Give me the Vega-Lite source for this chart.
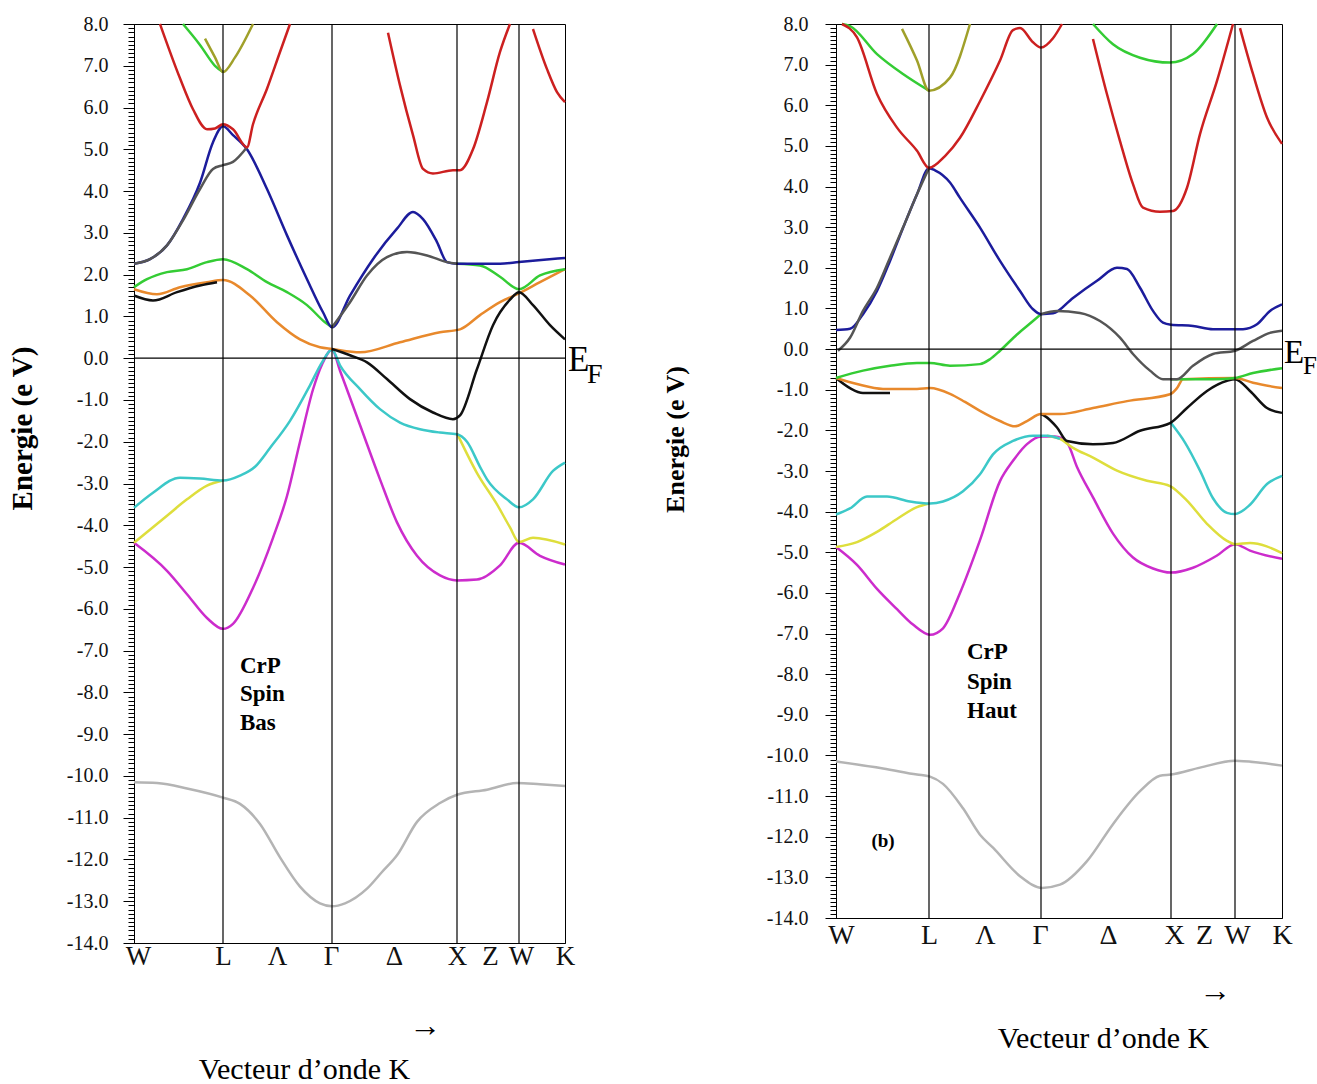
{
  "$schema": "https://vega.github.io/schema/vega-lite/v6.json",
  "background": "white",
  "padding": {"left": 7, "top": 13, "right": 0, "bottom": 0},
  "spacing": 57,
  "config": {"view": {"stroke": "black", "strokeWidth": 1}, "font": "Liberation Serif", "axis": {"grid": false}},
  "datasets": {
    "bandsL": [
      {"s":"Lgray","b":"gray","k":0,"e":-10.15},{"s":"Lgray","b":"gray","k":23,"e":-10.17},{"s":"Lgray","b":"gray","k":53,"e":-10.3},{"s":"Lgray","b":"gray","k":89,"e":-10.52},{"s":"Lgray","b":"gray","k":106,"e":-10.67},{"s":"Lgray","b":"gray","k":126,"e":-11.15},{"s":"Lgray","b":"gray","k":146,"e":-11.95},{"s":"Lgray","b":"gray","k":166,"e":-12.65},{"s":"Lgray","b":"gray","k":186,"e":-13.05},{"s":"Lgray","b":"gray","k":198,"e":-13.12},{"s":"Lgray","b":"gray","k":211,"e":-13.05},{"s":"Lgray","b":"gray","k":233,"e":-12.7},{"s":"Lgray","b":"gray","k":248,"e":-12.3},{"s":"Lgray","b":"gray","k":263,"e":-11.9},{"s":"Lgray","b":"gray","k":283,"e":-11.1},{"s":"Lgray","b":"gray","k":306,"e":-10.65},{"s":"Lgray","b":"gray","k":323,"e":-10.45},{"s":"Lgray","b":"gray","k":353,"e":-10.33},{"s":"Lgray","b":"gray","k":383,"e":-10.17},{"s":"Lgray","b":"gray","k":406,"e":-10.2},{"s":"Lgray","b":"gray","k":431,"e":-10.24},
      {"s":"Lmag","b":"magenta","k":0,"e":-4.42},{"s":"Lmag","b":"magenta","k":33,"e":-5.09},{"s":"Lmag","b":"magenta","k":53,"e":-5.65},{"s":"Lmag","b":"magenta","k":73,"e":-6.22},{"s":"Lmag","b":"magenta","k":89,"e":-6.48},{"s":"Lmag","b":"magenta","k":99,"e":-6.36},{"s":"Lmag","b":"magenta","k":119,"e":-5.5},{"s":"Lmag","b":"magenta","k":139,"e":-4.3},{"s":"Lmag","b":"magenta","k":153,"e":-3.3},{"s":"Lmag","b":"magenta","k":166,"e":-2.0},{"s":"Lmag","b":"magenta","k":179,"e":-0.75},{"s":"Lmag","b":"magenta","k":188,"e":-0.15},{"s":"Lmag","b":"magenta","k":198,"e":0.2},{"s":"Lmag","b":"magenta","k":206,"e":-0.3},{"s":"Lmag","b":"magenta","k":226,"e":-1.6},{"s":"Lmag","b":"magenta","k":246,"e":-2.9},{"s":"Lmag","b":"magenta","k":263,"e":-3.93},{"s":"Lmag","b":"magenta","k":283,"e":-4.73},{"s":"Lmag","b":"magenta","k":306,"e":-5.2},{"s":"Lmag","b":"magenta","k":323,"e":-5.32},{"s":"Lmag","b":"magenta","k":343,"e":-5.3},{"s":"Lmag","b":"magenta","k":366,"e":-4.96},{"s":"Lmag","b":"magenta","k":385,"e":-4.42},{"s":"Lmag","b":"magenta","k":406,"e":-4.73},{"s":"Lmag","b":"magenta","k":431,"e":-4.94},
      {"s":"Lyel1","b":"yellow","k":0,"e":-4.42},{"s":"Lyel1","b":"yellow","k":33,"e":-3.77},{"s":"Lyel1","b":"yellow","k":53,"e":-3.38},{"s":"Lyel1","b":"yellow","k":73,"e":-3.05},{"s":"Lyel1","b":"yellow","k":89,"e":-2.93},
      {"s":"Lyel2","b":"yellow","k":323,"e":-1.8},{"s":"Lyel2","b":"yellow","k":343,"e":-2.75},{"s":"Lyel2","b":"yellow","k":363,"e":-3.5},{"s":"Lyel2","b":"yellow","k":376,"e":-4.05},{"s":"Lyel2","b":"yellow","k":385,"e":-4.4},{"s":"Lyel2","b":"yellow","k":399,"e":-4.3},{"s":"Lyel2","b":"yellow","k":431,"e":-4.46},
      {"s":"Lcyan","b":"cyan","k":0,"e":-3.58},{"s":"Lcyan","b":"cyan","k":19,"e":-3.22},{"s":"Lcyan","b":"cyan","k":46,"e":-2.86},{"s":"Lcyan","b":"cyan","k":66,"e":-2.88},{"s":"Lcyan","b":"cyan","k":89,"e":-2.93},{"s":"Lcyan","b":"cyan","k":106,"e":-2.81},{"s":"Lcyan","b":"cyan","k":121,"e":-2.6},{"s":"Lcyan","b":"cyan","k":136,"e":-2.15},{"s":"Lcyan","b":"cyan","k":156,"e":-1.5},{"s":"Lcyan","b":"cyan","k":176,"e":-0.65},{"s":"Lcyan","b":"cyan","k":188,"e":-0.1},{"s":"Lcyan","b":"cyan","k":198,"e":0.2},{"s":"Lcyan","b":"cyan","k":206,"e":-0.17},{"s":"Lcyan","b":"cyan","k":226,"e":-0.74},{"s":"Lcyan","b":"cyan","k":246,"e":-1.22},{"s":"Lcyan","b":"cyan","k":266,"e":-1.54},{"s":"Lcyan","b":"cyan","k":286,"e":-1.7},{"s":"Lcyan","b":"cyan","k":306,"e":-1.78},{"s":"Lcyan","b":"cyan","k":323,"e":-1.82},{"s":"Lcyan","b":"cyan","k":333,"e":-2.0},{"s":"Lcyan","b":"cyan","k":346,"e":-2.6},{"s":"Lcyan","b":"cyan","k":353,"e":-2.9},{"s":"Lcyan","b":"cyan","k":373,"e":-3.38},{"s":"Lcyan","b":"cyan","k":385,"e":-3.57},{"s":"Lcyan","b":"cyan","k":399,"e":-3.38},{"s":"Lcyan","b":"cyan","k":419,"e":-2.7},{"s":"Lcyan","b":"cyan","k":431,"e":-2.5},
      {"s":"Lora","b":"orange","k":0,"e":1.65},{"s":"Lora","b":"orange","k":23,"e":1.53},{"s":"Lora","b":"orange","k":46,"e":1.7},{"s":"Lora","b":"orange","k":73,"e":1.82},{"s":"Lora","b":"orange","k":89,"e":1.87},{"s":"Lora","b":"orange","k":116,"e":1.5},{"s":"Lora","b":"orange","k":143,"e":0.86},{"s":"Lora","b":"orange","k":166,"e":0.45},{"s":"Lora","b":"orange","k":186,"e":0.26},{"s":"Lora","b":"orange","k":198,"e":0.22},{"s":"Lora","b":"orange","k":226,"e":0.14},{"s":"Lora","b":"orange","k":266,"e":0.38},{"s":"Lora","b":"orange","k":306,"e":0.62},{"s":"Lora","b":"orange","k":326,"e":0.69},{"s":"Lora","b":"orange","k":346,"e":1.03},{"s":"Lora","b":"orange","k":366,"e":1.34},{"s":"Lora","b":"orange","k":385,"e":1.55},{"s":"Lora","b":"orange","k":406,"e":1.82},{"s":"Lora","b":"orange","k":431,"e":2.13},
      {"s":"Lblk1","b":"black","k":0,"e":1.5},{"s":"Lblk1","b":"black","k":19,"e":1.38},{"s":"Lblk1","b":"black","k":43,"e":1.58},{"s":"Lblk1","b":"black","k":66,"e":1.74},{"s":"Lblk1","b":"black","k":83,"e":1.82},
      {"s":"Lblk2","b":"black","k":198,"e":0.22},{"s":"Lblk2","b":"black","k":216,"e":0.07},{"s":"Lblk2","b":"black","k":233,"e":-0.1},{"s":"Lblk2","b":"black","k":253,"e":-0.5},{"s":"Lblk2","b":"black","k":276,"e":-0.98},{"s":"Lblk2","b":"black","k":299,"e":-1.3},{"s":"Lblk2","b":"black","k":319,"e":-1.46},{"s":"Lblk2","b":"black","k":326,"e":-1.37},{"s":"Lblk2","b":"black","k":343,"e":-0.26},{"s":"Lblk2","b":"black","k":359,"e":0.79},{"s":"Lblk2","b":"black","k":376,"e":1.4},{"s":"Lblk2","b":"black","k":385,"e":1.58},{"s":"Lblk2","b":"black","k":399,"e":1.27},{"s":"Lblk2","b":"black","k":416,"e":0.79},{"s":"Lblk2","b":"black","k":431,"e":0.45},
      {"s":"Lgrn1","b":"green","k":0,"e":1.7},{"s":"Lgrn1","b":"green","k":13,"e":1.89},{"s":"Lgrn1","b":"green","k":33,"e":2.06},{"s":"Lgrn1","b":"green","k":53,"e":2.13},{"s":"Lgrn1","b":"green","k":73,"e":2.3},{"s":"Lgrn1","b":"green","k":89,"e":2.37},{"s":"Lgrn1","b":"green","k":113,"e":2.13},{"s":"Lgrn1","b":"green","k":133,"e":1.82},{"s":"Lgrn1","b":"green","k":153,"e":1.58},{"s":"Lgrn1","b":"green","k":173,"e":1.27},{"s":"Lgrn1","b":"green","k":191,"e":0.86},{"s":"Lgrn1","b":"green","k":198,"e":0.74},
      {"s":"Lgrn2","b":"green","k":323,"e":2.26},{"s":"Lgrn2","b":"green","k":346,"e":2.22},{"s":"Lgrn2","b":"green","k":366,"e":1.95},{"s":"Lgrn2","b":"green","k":385,"e":1.65},{"s":"Lgrn2","b":"green","k":406,"e":1.98},{"s":"Lgrn2","b":"green","k":431,"e":2.13},
      {"s":"Lgrn3","b":"green","k":49,"e":8.0},{"s":"Lgrn3","b":"green","k":66,"e":7.5},{"s":"Lgrn3","b":"green","k":81,"e":7.0},{"s":"Lgrn3","b":"green","k":89,"e":6.85},
      {"s":"Lolive","b":"olive","k":71,"e":7.65},{"s":"Lolive","b":"olive","k":81,"e":7.2},{"s":"Lolive","b":"olive","k":89,"e":6.85},{"s":"Lolive","b":"olive","k":101,"e":7.2},{"s":"Lolive","b":"olive","k":119,"e":8.0},
      {"s":"Lblue","b":"blue","k":0,"e":2.26},{"s":"Lblue","b":"blue","k":16,"e":2.37},{"s":"Lblue","b":"blue","k":33,"e":2.7},{"s":"Lblue","b":"blue","k":49,"e":3.33},{"s":"Lblue","b":"blue","k":66,"e":4.2},{"s":"Lblue","b":"blue","k":79,"e":5.17},{"s":"Lblue","b":"blue","k":89,"e":5.55},{"s":"Lblue","b":"blue","k":99,"e":5.34},{"s":"Lblue","b":"blue","k":113,"e":5.0},{"s":"Lblue","b":"blue","k":133,"e":4.05},{"s":"Lblue","b":"blue","k":153,"e":2.94},{"s":"Lblue","b":"blue","k":173,"e":1.89},{"s":"Lblue","b":"blue","k":189,"e":1.1},{"s":"Lblue","b":"blue","k":198,"e":0.74},{"s":"Lblue","b":"blue","k":216,"e":1.5},{"s":"Lblue","b":"blue","k":239,"e":2.37},{"s":"Lblue","b":"blue","k":263,"e":3.1},{"s":"Lblue","b":"blue","k":279,"e":3.5},{"s":"Lblue","b":"blue","k":289,"e":3.33},{"s":"Lblue","b":"blue","k":303,"e":2.78},{"s":"Lblue","b":"blue","k":313,"e":2.3},{"s":"Lblue","b":"blue","k":323,"e":2.26},{"s":"Lblue","b":"blue","k":366,"e":2.26},{"s":"Lblue","b":"blue","k":385,"e":2.3},{"s":"Lblue","b":"blue","k":431,"e":2.4},
      {"s":"Ldg1","b":"dgray","k":0,"e":2.26},{"s":"Ldg1","b":"dgray","k":16,"e":2.37},{"s":"Ldg1","b":"dgray","k":33,"e":2.7},{"s":"Ldg1","b":"dgray","k":49,"e":3.3},{"s":"Ldg1","b":"dgray","k":66,"e":4.05},{"s":"Ldg1","b":"dgray","k":79,"e":4.53},{"s":"Ldg1","b":"dgray","k":89,"e":4.62},{"s":"Ldg1","b":"dgray","k":99,"e":4.7},{"s":"Ldg1","b":"dgray","k":113,"e":5.05},
      {"s":"Ldg2","b":"dgray","k":198,"e":0.74},{"s":"Ldg2","b":"dgray","k":216,"e":1.34},{"s":"Ldg2","b":"dgray","k":233,"e":1.98},{"s":"Ldg2","b":"dgray","k":253,"e":2.42},{"s":"Ldg2","b":"dgray","k":273,"e":2.54},{"s":"Ldg2","b":"dgray","k":293,"e":2.46},{"s":"Ldg2","b":"dgray","k":313,"e":2.3},{"s":"Ldg2","b":"dgray","k":323,"e":2.26},
      {"s":"Lred1","b":"red","k":26,"e":8.0},{"s":"Lred1","b":"red","k":46,"e":6.7},{"s":"Lred1","b":"red","k":59,"e":5.96},{"s":"Lred1","b":"red","k":73,"e":5.48},{"s":"Lred1","b":"red","k":81,"e":5.5},{"s":"Lred1","b":"red","k":89,"e":5.6},{"s":"Lred1","b":"red","k":99,"e":5.48},{"s":"Lred1","b":"red","k":113,"e":5.05},{"s":"Lred1","b":"red","k":119,"e":5.6},{"s":"Lred1","b":"red","k":133,"e":6.45},{"s":"Lred1","b":"red","k":146,"e":7.33},{"s":"Lred1","b":"red","k":156,"e":8.0},
      {"s":"Lred2","b":"red","k":254,"e":7.79},{"s":"Lred2","b":"red","k":266,"e":6.53},{"s":"Lred2","b":"red","k":279,"e":5.34},{"s":"Lred2","b":"red","k":289,"e":4.53},{"s":"Lred2","b":"red","k":299,"e":4.42},{"s":"Lred2","b":"red","k":319,"e":4.5},{"s":"Lred2","b":"red","k":326,"e":4.5},{"s":"Lred2","b":"red","k":339,"e":5.0},{"s":"Lred2","b":"red","k":353,"e":6.13},{"s":"Lred2","b":"red","k":366,"e":7.33},{"s":"Lred2","b":"red","k":376,"e":8.0},
      {"s":"Lred3","b":"red","k":399,"e":7.88},{"s":"Lred3","b":"red","k":413,"e":6.92},{"s":"Lred3","b":"red","k":423,"e":6.37},{"s":"Lred3","b":"red","k":431,"e":6.13}
    ],
    "bandsR": [
      {"s":"Rgray","b":"gray","k":0,"e":-10.15},{"s":"Rgray","b":"gray","k":47,"e":-10.32},{"s":"Rgray","b":"gray","k":81,"e":-10.47},{"s":"Rgray","b":"gray","k":94,"e":-10.52},{"s":"Rgray","b":"gray","k":107,"e":-10.7},{"s":"Rgray","b":"gray","k":127,"e":-11.3},{"s":"Rgray","b":"gray","k":144,"e":-11.95},{"s":"Rgray","b":"gray","k":157,"e":-12.27},{"s":"Rgray","b":"gray","k":184,"e":-12.97},{"s":"Rgray","b":"gray","k":206,"e":-13.26},{"s":"Rgray","b":"gray","k":224,"e":-13.18},{"s":"Rgray","b":"gray","k":251,"e":-12.6},{"s":"Rgray","b":"gray","k":277,"e":-11.69},{"s":"Rgray","b":"gray","k":304,"e":-10.88},{"s":"Rgray","b":"gray","k":324,"e":-10.5},{"s":"Rgray","b":"gray","k":335,"e":-10.47},{"s":"Rgray","b":"gray","k":364,"e":-10.3},{"s":"Rgray","b":"gray","k":399,"e":-10.13},{"s":"Rgray","b":"gray","k":424,"e":-10.18},{"s":"Rgray","b":"gray","k":446,"e":-10.25},
      {"s":"Rmag","b":"magenta","k":0,"e":-4.87},{"s":"Rmag","b":"magenta","k":21,"e":-5.31},{"s":"Rmag","b":"magenta","k":41,"e":-5.9},{"s":"Rmag","b":"magenta","k":61,"e":-6.4},{"s":"Rmag","b":"magenta","k":77,"e":-6.78},{"s":"Rmag","b":"magenta","k":94,"e":-7.03},{"s":"Rmag","b":"magenta","k":107,"e":-6.87},{"s":"Rmag","b":"magenta","k":124,"e":-6.0},{"s":"Rmag","b":"magenta","k":144,"e":-4.7},{"s":"Rmag","b":"magenta","k":164,"e":-3.25},{"s":"Rmag","b":"magenta","k":177,"e":-2.75},{"s":"Rmag","b":"magenta","k":191,"e":-2.34},{"s":"Rmag","b":"magenta","k":205,"e":-2.15},{"s":"Rmag","b":"magenta","k":219,"e":-2.15},{"s":"Rmag","b":"magenta","k":231,"e":-2.3},{"s":"Rmag","b":"magenta","k":241,"e":-2.9},{"s":"Rmag","b":"magenta","k":257,"e":-3.65},{"s":"Rmag","b":"magenta","k":277,"e":-4.54},{"s":"Rmag","b":"magenta","k":297,"e":-5.13},{"s":"Rmag","b":"magenta","k":317,"e":-5.4},{"s":"Rmag","b":"magenta","k":335,"e":-5.5},{"s":"Rmag","b":"magenta","k":357,"e":-5.38},{"s":"Rmag","b":"magenta","k":381,"e":-5.08},{"s":"Rmag","b":"magenta","k":399,"e":-4.8},{"s":"Rmag","b":"magenta","k":414,"e":-4.96},{"s":"Rmag","b":"magenta","k":446,"e":-5.16},
      {"s":"Ryel1","b":"yellow","k":0,"e":-4.87},{"s":"Ryel1","b":"yellow","k":21,"e":-4.75},{"s":"Ryel1","b":"yellow","k":41,"e":-4.5},{"s":"Ryel1","b":"yellow","k":61,"e":-4.18},{"s":"Ryel1","b":"yellow","k":81,"e":-3.89},{"s":"Ryel1","b":"yellow","k":93,"e":-3.8},
      {"s":"Ryel2","b":"yellow","k":211,"e":-2.13},{"s":"Ryel2","b":"yellow","k":224,"e":-2.21},{"s":"Ryel2","b":"yellow","k":237,"e":-2.43},{"s":"Ryel2","b":"yellow","k":257,"e":-2.67},{"s":"Ryel2","b":"yellow","k":281,"e":-2.99},{"s":"Ryel2","b":"yellow","k":311,"e":-3.24},{"s":"Ryel2","b":"yellow","k":334,"e":-3.37},{"s":"Ryel2","b":"yellow","k":351,"e":-3.73},{"s":"Ryel2","b":"yellow","k":371,"e":-4.3},{"s":"Ryel2","b":"yellow","k":391,"e":-4.72},{"s":"Ryel2","b":"yellow","k":399,"e":-4.8},{"s":"Ryel2","b":"yellow","k":414,"e":-4.77},{"s":"Ryel2","b":"yellow","k":446,"e":-5.02},
      {"s":"Rcyan1","b":"cyan","k":0,"e":-4.07},{"s":"Rcyan1","b":"cyan","k":14,"e":-3.92},{"s":"Rcyan1","b":"cyan","k":31,"e":-3.63},{"s":"Rcyan1","b":"cyan","k":51,"e":-3.63},{"s":"Rcyan1","b":"cyan","k":74,"e":-3.75},{"s":"Rcyan1","b":"cyan","k":94,"e":-3.8},{"s":"Rcyan1","b":"cyan","k":107,"e":-3.75},{"s":"Rcyan1","b":"cyan","k":127,"e":-3.5},{"s":"Rcyan1","b":"cyan","k":144,"e":-3.08},{"s":"Rcyan1","b":"cyan","k":157,"e":-2.59},{"s":"Rcyan1","b":"cyan","k":177,"e":-2.26},{"s":"Rcyan1","b":"cyan","k":197,"e":-2.13},{"s":"Rcyan1","b":"cyan","k":211,"e":-2.13},{"s":"Rcyan1","b":"cyan","k":224,"e":-2.21},
      {"s":"Rcyan2","b":"cyan","k":335,"e":-1.82},{"s":"Rcyan2","b":"cyan","k":349,"e":-2.3},{"s":"Rcyan2","b":"cyan","k":364,"e":-2.99},{"s":"Rcyan2","b":"cyan","k":377,"e":-3.67},{"s":"Rcyan2","b":"cyan","k":391,"e":-4.03},{"s":"Rcyan2","b":"cyan","k":399,"e":-4.06},{"s":"Rcyan2","b":"cyan","k":414,"e":-3.83},{"s":"Rcyan2","b":"cyan","k":431,"e":-3.32},{"s":"Rcyan2","b":"cyan","k":446,"e":-3.12},
      {"s":"Rblk1","b":"black","k":0,"e":-0.71},{"s":"Rblk1","b":"black","k":14,"e":-0.96},{"s":"Rblk1","b":"black","k":27,"e":-1.08},{"s":"Rblk1","b":"black","k":54,"e":-1.08},
      {"s":"Rblk2","b":"black","k":205,"e":-1.6},{"s":"Rblk2","b":"black","k":209,"e":-1.65},{"s":"Rblk2","b":"black","k":221,"e":-1.93},{"s":"Rblk2","b":"black","k":231,"e":-2.26},{"s":"Rblk2","b":"black","k":257,"e":-2.34},{"s":"Rblk2","b":"black","k":277,"e":-2.31},{"s":"Rblk2","b":"black","k":304,"e":-2.01},{"s":"Rblk2","b":"black","k":334,"e":-1.82},{"s":"Rblk2","b":"black","k":351,"e":-1.45},{"s":"Rblk2","b":"black","k":371,"e":-1.03},{"s":"Rblk2","b":"black","k":391,"e":-0.78},{"s":"Rblk2","b":"black","k":399,"e":-0.74},{"s":"Rblk2","b":"black","k":414,"e":-1.03},{"s":"Rblk2","b":"black","k":431,"e":-1.45},{"s":"Rblk2","b":"black","k":446,"e":-1.57},
      {"s":"Rora","b":"orange","k":0,"e":-0.71},{"s":"Rora","b":"orange","k":21,"e":-0.86},{"s":"Rora","b":"orange","k":47,"e":-0.98},{"s":"Rora","b":"orange","k":81,"e":-0.98},{"s":"Rora","b":"orange","k":94,"e":-0.96},{"s":"Rora","b":"orange","k":114,"e":-1.1},{"s":"Rora","b":"orange","k":129,"e":-1.3},{"s":"Rora","b":"orange","k":144,"e":-1.52},{"s":"Rora","b":"orange","k":164,"e":-1.77},{"s":"Rora","b":"orange","k":179,"e":-1.9},{"s":"Rora","b":"orange","k":191,"e":-1.77},{"s":"Rora","b":"orange","k":205,"e":-1.6},{"s":"Rora","b":"orange","k":224,"e":-1.6},{"s":"Rora","b":"orange","k":257,"e":-1.45},{"s":"Rora","b":"orange","k":291,"e":-1.28},{"s":"Rora","b":"orange","k":334,"e":-1.11},{"s":"Rora","b":"orange","k":341,"e":-0.96},{"s":"Rora","b":"orange","k":347,"e":-0.74},{"s":"Rora","b":"orange","k":399,"e":-0.71},{"s":"Rora","b":"orange","k":417,"e":-0.83},{"s":"Rora","b":"orange","k":446,"e":-0.96},
      {"s":"Rgrn1","b":"green","k":0,"e":-0.71},{"s":"Rgrn1","b":"green","k":27,"e":-0.53},{"s":"Rgrn1","b":"green","k":54,"e":-0.41},{"s":"Rgrn1","b":"green","k":81,"e":-0.34},{"s":"Rgrn1","b":"green","k":94,"e":-0.34},{"s":"Rgrn1","b":"green","k":114,"e":-0.41},{"s":"Rgrn1","b":"green","k":144,"e":-0.37},{"s":"Rgrn1","b":"green","k":154,"e":-0.25},{"s":"Rgrn1","b":"green","k":164,"e":-0.04},{"s":"Rgrn1","b":"green","k":181,"e":0.36},{"s":"Rgrn1","b":"green","k":197,"e":0.69},{"s":"Rgrn1","b":"green","k":205,"e":0.86},
      {"s":"Rgrn2","b":"green","k":335,"e":-0.74},{"s":"Rgrn2","b":"green","k":377,"e":-0.74},{"s":"Rgrn2","b":"green","k":399,"e":-0.71},{"s":"Rgrn2","b":"green","k":417,"e":-0.59},{"s":"Rgrn2","b":"green","k":446,"e":-0.47},
      {"s":"Rgrn3","b":"green","k":6,"e":8.0},{"s":"Rgrn3","b":"green","k":14,"e":7.95},{"s":"Rgrn3","b":"green","k":41,"e":7.26},{"s":"Rgrn3","b":"green","k":67,"e":6.77},{"s":"Rgrn3","b":"green","k":93,"e":6.36},
      {"s":"Rgrn4","b":"green","k":257,"e":8.0},{"s":"Rgrn4","b":"green","k":277,"e":7.5},{"s":"Rgrn4","b":"green","k":304,"e":7.17},{"s":"Rgrn4","b":"green","k":334,"e":7.05},{"s":"Rgrn4","b":"green","k":357,"e":7.26},{"s":"Rgrn4","b":"green","k":381,"e":8.0},
      {"s":"Rolive","b":"olive","k":66,"e":7.88},{"s":"Rolive","b":"olive","k":81,"e":7.1},{"s":"Rolive","b":"olive","k":93,"e":6.36},{"s":"Rolive","b":"olive","k":114,"e":6.68},{"s":"Rolive","b":"olive","k":134,"e":8.0},
      {"s":"Rblue","b":"blue","k":0,"e":0.47},{"s":"Rblue","b":"blue","k":14,"e":0.5},{"s":"Rblue","b":"blue","k":27,"e":0.86},{"s":"Rblue","b":"blue","k":41,"e":1.43},{"s":"Rblue","b":"blue","k":54,"e":2.17},{"s":"Rblue","b":"blue","k":67,"e":2.98},{"s":"Rblue","b":"blue","k":81,"e":3.81},{"s":"Rblue","b":"blue","k":93,"e":4.45},{"s":"Rblue","b":"blue","k":99,"e":4.4},{"s":"Rblue","b":"blue","k":114,"e":4.1},{"s":"Rblue","b":"blue","k":124,"e":3.72},{"s":"Rblue","b":"blue","k":144,"e":2.99},{"s":"Rblue","b":"blue","k":164,"e":2.17},{"s":"Rblue","b":"blue","k":184,"e":1.43},{"s":"Rblue","b":"blue","k":197,"e":0.98},{"s":"Rblue","b":"blue","k":205,"e":0.86},{"s":"Rblue","b":"blue","k":217,"e":0.88},{"s":"Rblue","b":"blue","k":237,"e":1.26},{"s":"Rblue","b":"blue","k":261,"e":1.68},{"s":"Rblue","b":"blue","k":281,"e":2.0},{"s":"Rblue","b":"blue","k":291,"e":1.97},{"s":"Rblue","b":"blue","k":304,"e":1.51},{"s":"Rblue","b":"blue","k":317,"e":0.94},{"s":"Rblue","b":"blue","k":327,"e":0.65},{"s":"Rblue","b":"blue","k":335,"e":0.6},{"s":"Rblue","b":"blue","k":357,"e":0.57},{"s":"Rblue","b":"blue","k":377,"e":0.49},{"s":"Rblue","b":"blue","k":407,"e":0.49},{"s":"Rblue","b":"blue","k":421,"e":0.61},{"s":"Rblue","b":"blue","k":434,"e":0.94},{"s":"Rblue","b":"blue","k":446,"e":1.1},
      {"s":"Rdg1","b":"dgray","k":2,"e":-0.04},{"s":"Rdg1","b":"dgray","k":14,"e":0.28},{"s":"Rdg1","b":"dgray","k":27,"e":0.94},{"s":"Rdg1","b":"dgray","k":41,"e":1.51},{"s":"Rdg1","b":"dgray","k":54,"e":2.25},{"s":"Rdg1","b":"dgray","k":67,"e":2.99},{"s":"Rdg1","b":"dgray","k":81,"e":3.81},{"s":"Rdg1","b":"dgray","k":93,"e":4.46},
      {"s":"Rdg2","b":"dgray","k":205,"e":0.86},{"s":"Rdg2","b":"dgray","k":221,"e":0.94},{"s":"Rdg2","b":"dgray","k":244,"e":0.89},{"s":"Rdg2","b":"dgray","k":264,"e":0.69},{"s":"Rdg2","b":"dgray","k":284,"e":0.28},{"s":"Rdg2","b":"dgray","k":297,"e":-0.12},{"s":"Rdg2","b":"dgray","k":314,"e":-0.53},{"s":"Rdg2","b":"dgray","k":327,"e":-0.74},{"s":"Rdg2","b":"dgray","k":341,"e":-0.74},{"s":"Rdg2","b":"dgray","k":357,"e":-0.41},{"s":"Rdg2","b":"dgray","k":377,"e":-0.12},{"s":"Rdg2","b":"dgray","k":399,"e":-0.04},{"s":"Rdg2","b":"dgray","k":417,"e":0.2},{"s":"Rdg2","b":"dgray","k":434,"e":0.4},{"s":"Rdg2","b":"dgray","k":446,"e":0.45},
      {"s":"Rred1","b":"red","k":6,"e":8.0},{"s":"Rred1","b":"red","k":21,"e":7.67},{"s":"Rred1","b":"red","k":41,"e":6.28},{"s":"Rred1","b":"red","k":61,"e":5.45},{"s":"Rred1","b":"red","k":81,"e":4.88},{"s":"Rred1","b":"red","k":93,"e":4.46},{"s":"Rred1","b":"red","k":109,"e":4.75},{"s":"Rred1","b":"red","k":124,"e":5.2},{"s":"Rred1","b":"red","k":144,"e":6.1},{"s":"Rred1","b":"red","k":164,"e":7.1},{"s":"Rred1","b":"red","k":177,"e":7.85},{"s":"Rred1","b":"red","k":184,"e":7.9},{"s":"Rred1","b":"red","k":197,"e":7.55},{"s":"Rred1","b":"red","k":205,"e":7.42},{"s":"Rred1","b":"red","k":217,"e":7.65},{"s":"Rred1","b":"red","k":226,"e":8.0},
      {"s":"Rred2","b":"red","k":257,"e":7.63},{"s":"Rred2","b":"red","k":271,"e":6.27},{"s":"Rred2","b":"red","k":284,"e":5.12},{"s":"Rred2","b":"red","k":297,"e":4.06},{"s":"Rred2","b":"red","k":307,"e":3.48},{"s":"Rred2","b":"red","k":324,"e":3.38},{"s":"Rred2","b":"red","k":337,"e":3.4},{"s":"Rred2","b":"red","k":351,"e":3.97},{"s":"Rred2","b":"red","k":364,"e":5.29},{"s":"Rred2","b":"red","k":381,"e":6.6},{"s":"Rred2","b":"red","k":397,"e":8.0},
      {"s":"Rred3","b":"red","k":404,"e":7.9},{"s":"Rred3","b":"red","k":417,"e":6.77},{"s":"Rred3","b":"red","k":431,"e":5.7},{"s":"Rred3","b":"red","k":446,"e":5.05}
    ]
  },
  "hconcat": [
    {
      "width": 431,
      "height": 919,
      "layer": [
        {
          "data": {"name": "bandsL"},
          "mark": {"type": "line", "strokeWidth": 2.5, "interpolate": "monotone"},
          "encoding": {
            "x": {"field": "k", "type": "quantitative", "scale": {"domain": [0, 431], "nice": false, "zero": false},
              "axis": {"orient": "bottom", "values": [4, 89, 143, 197, 260, 323, 356, 387, 431],
                "labelExpr": "datum.value < 40 ? 'W' : datum.value < 120 ? 'L' : datum.value < 170 ? 'Λ' : datum.value < 230 ? 'Γ' : datum.value < 300 ? 'Δ' : datum.value < 340 ? 'X' : datum.value < 375 ? 'Z' : datum.value < 420 ? 'W' : 'K'",
                "tickSize": 0, "labelPadding": 0, "labelFont": "Liberation Serif", "labelFontSize": 27, "labelColor": "#111111",
                "labelOverlap": false, "labelFlush": false, "labelBound": false, "domainColor": "black",
                "title": "Vecteur d’onde K", "titleFont": "Liberation Serif", "titleFontSize": 30, "titleFontWeight": "normal", "titleColor": "black",
                "titleX": 170, "titleY": 111, "titleAlign": "center", "titleBaseline": "top"}},
            "y": {"field": "e", "type": "quantitative", "scale": {"domain": [-14, 8], "nice": false, "zero": false},
              "axis": {"orient": "left", "values": [-14,-13,-12,-11,-10,-9,-8,-7,-6,-5,-4,-3,-2,-1,0,1,2,3,4,5,6,7,8],
                "labelExpr": "replace(format(datum.value, '.1f'), '−', '-')",
                "tickSize": 11, "tickColor": "black", "labelPadding": 15, "labelFont": "Liberation Serif", "labelFontSize": 20, "labelColor": "#111111",
                "domainColor": "black", "title": "Energie (e V)", "titleFont": "Liberation Serif", "titleFontSize": 29, "titleFontWeight": "bold", "titleColor": "black",
                "titleX": -97, "titleY": 404, "titleAlign": "center", "titleBaseline": "bottom", "titleAngle": -90}},
            "color": {"field": "b", "type": "nominal", "legend": null,
              "scale": {"domain": ["gray","magenta","yellow","cyan","orange","black","green","blue","dgray","red","olive"],
                        "range": ["#b4b4b4","#cc2ccc","#dede3c","#3cc8c8","#e8892c","#111111","#34cc34","#1c1c9c","#555555","#cc2020","#a0a02a"]}},
            "detail": {"field": "s", "type": "nominal"}
          }
        },
        {
          "data": {"values": [{"k": 89}, {"k": 198}, {"k": 323}, {"k": 385}]},
          "mark": {"type": "rule", "color": "black", "strokeWidth": 1.2},
          "encoding": {"x": {"field": "k", "type": "quantitative", "scale": {"domain": [0, 431], "nice": false, "zero": false}}}
        },
        {
          "data": {"values": [{"e": 0}]},
          "mark": {"type": "rule", "color": "black", "strokeWidth": 1.2},
          "encoding": {"y": {"field": "e", "type": "quantitative", "scale": {"domain": [-14, 8], "nice": false, "zero": false},
            "axis": {"orient": "left", "tickCount": 220, "labels": false, "tickSize": 6, "tickColor": "black", "domain": false, "title": null, "grid": false}}}
        },
        {
          "data": {"values": [{"k": 106, "e": -7.54, "t": "CrP"}, {"k": 106, "e": -8.21, "t": "Spin"}, {"k": 106, "e": -8.9, "t": "Bas"}]},
          "mark": {"type": "text", "align": "left", "baseline": "alphabetic", "font": "Liberation Serif", "fontSize": 23, "fontWeight": "bold", "color": "black"},
          "encoding": {"x": {"field": "k", "type": "quantitative", "scale": {"domain": [0, 431], "nice": false, "zero": false}},
            "y": {"field": "e", "type": "quantitative", "scale": {"domain": [-14, 8], "nice": false, "zero": false}, "axis": null},
            "text": {"field": "t"}}
        },
        {
          "data": {"values": [{"k": 434, "e": -0.3, "t": "E"}]},
          "mark": {"type": "text", "align": "left", "baseline": "alphabetic", "font": "Liberation Serif", "fontSize": 35, "color": "black"},
          "encoding": {"x": {"field": "k", "type": "quantitative", "scale": {"domain": [0, 431], "nice": false, "zero": false}},
            "y": {"field": "e", "type": "quantitative", "scale": {"domain": [-14, 8], "nice": false, "zero": false}, "axis": null},
            "text": {"field": "t"}}
        },
        {
          "data": {"values": [{"k": 453, "e": -0.59, "t": "F"}]},
          "mark": {"type": "text", "align": "left", "baseline": "alphabetic", "font": "Liberation Serif", "fontSize": 28, "color": "black"},
          "encoding": {"x": {"field": "k", "type": "quantitative", "scale": {"domain": [0, 431], "nice": false, "zero": false}},
            "y": {"field": "e", "type": "quantitative", "scale": {"domain": [-14, 8], "nice": false, "zero": false}, "axis": null},
            "text": {"field": "t"}}
        },
        {
          "data": {"values": [{"k": 291, "e": -15.99, "t": "→"}]},
          "mark": {"type": "text", "align": "center", "baseline": "middle", "font": "Liberation Serif", "fontSize": 32, "color": "black"},
          "encoding": {"x": {"field": "k", "type": "quantitative", "scale": {"domain": [0, 431], "nice": false, "zero": false}},
            "y": {"field": "e", "type": "quantitative", "scale": {"domain": [-14, 8], "nice": false, "zero": false}, "axis": null},
            "text": {"field": "t"}}
        }
      ],
      "resolve": {"axis": {"y": "independent"}}
    },
    {
      "width": 446,
      "height": 894,
      "layer": [
        {
          "data": {"name": "bandsR"},
          "mark": {"type": "line", "strokeWidth": 2.5, "interpolate": "monotone"},
          "encoding": {
            "x": {"field": "k", "type": "quantitative", "scale": {"domain": [0, 446], "nice": false, "zero": false},
              "axis": {"orient": "bottom", "values": [5, 93, 149, 204, 272, 338, 368, 401, 446],
                "labelExpr": "datum.value < 40 ? 'W' : datum.value < 120 ? 'L' : datum.value < 170 ? 'Λ' : datum.value < 230 ? 'Γ' : datum.value < 300 ? 'Δ' : datum.value < 340 ? 'X' : datum.value < 375 ? 'Z' : datum.value < 420 ? 'W' : 'K'",
                "tickSize": 0, "labelPadding": 3, "labelFont": "Liberation Serif", "labelFontSize": 28, "labelColor": "#111111",
                "labelOverlap": false, "labelFlush": false, "labelBound": false, "domainColor": "black",
                "title": "Vecteur d’onde K", "titleFont": "Liberation Serif", "titleFontSize": 30, "titleFontWeight": "normal", "titleColor": "black",
                "titleX": 267, "titleY": 105, "titleAlign": "center", "titleBaseline": "top"}},
            "y": {"field": "e", "type": "quantitative", "scale": {"domain": [-14, 8], "nice": false, "zero": false},
              "axis": {"orient": "left", "values": [-14,-13,-12,-11,-10,-9,-8,-7,-6,-5,-4,-3,-2,-1,0,1,2,3,4,5,6,7,8],
                "labelExpr": "replace(format(datum.value, '.1f'), '−', '-')",
                "tickSize": 11, "tickColor": "black", "labelPadding": 17, "labelFont": "Liberation Serif", "labelFontSize": 20, "labelColor": "#111111",
                "domainColor": "black", "title": "Energie (e V)", "titleFont": "Liberation Serif", "titleFontSize": 26, "titleFontWeight": "bold", "titleColor": "black",
                "titleX": -148, "titleY": 415, "titleAlign": "center", "titleBaseline": "bottom", "titleAngle": -90}},
            "color": {"field": "b", "type": "nominal", "legend": null,
              "scale": {"domain": ["gray","magenta","yellow","cyan","orange","black","green","blue","dgray","red","olive"],
                        "range": ["#b4b4b4","#cc2ccc","#dede3c","#3cc8c8","#e8892c","#111111","#34cc34","#1c1c9c","#555555","#cc2020","#a0a02a"]}},
            "detail": {"field": "s", "type": "nominal"}
          }
        },
        {
          "data": {"values": [{"k": 93}, {"k": 205}, {"k": 335}, {"k": 399}]},
          "mark": {"type": "rule", "color": "black", "strokeWidth": 1.2},
          "encoding": {"x": {"field": "k", "type": "quantitative", "scale": {"domain": [0, 446], "nice": false, "zero": false}}}
        },
        {
          "data": {"values": [{"e": 0}]},
          "mark": {"type": "rule", "color": "black", "strokeWidth": 1.2},
          "encoding": {"y": {"field": "e", "type": "quantitative", "scale": {"domain": [-14, 8], "nice": false, "zero": false},
            "axis": {"orient": "left", "tickCount": 220, "labels": false, "tickSize": 6, "tickColor": "black", "domain": false, "title": null, "grid": false}}}
        },
        {
          "data": {"values": [{"k": 131, "e": -7.62, "t": "CrP"}, {"k": 131, "e": -8.36, "t": "Spin"}, {"k": 131, "e": -9.07, "t": "Haut"}]},
          "mark": {"type": "text", "align": "left", "baseline": "alphabetic", "font": "Liberation Serif", "fontSize": 23, "fontWeight": "bold", "color": "black"},
          "encoding": {"x": {"field": "k", "type": "quantitative", "scale": {"domain": [0, 446], "nice": false, "zero": false}},
            "y": {"field": "e", "type": "quantitative", "scale": {"domain": [-14, 8], "nice": false, "zero": false}, "axis": null},
            "text": {"field": "t"}}
        },
        {
          "data": {"values": [{"k": 47, "e": -12.25, "t": "(b)"}]},
          "mark": {"type": "text", "align": "center", "baseline": "alphabetic", "font": "Liberation Serif", "fontSize": 19, "fontWeight": "bold", "color": "black"},
          "encoding": {"x": {"field": "k", "type": "quantitative", "scale": {"domain": [0, 446], "nice": false, "zero": false}},
            "y": {"field": "e", "type": "quantitative", "scale": {"domain": [-14, 8], "nice": false, "zero": false}, "axis": null},
            "text": {"field": "t"}}
        },
        {
          "data": {"values": [{"k": 448, "e": -0.34, "t": "E"}]},
          "mark": {"type": "text", "align": "left", "baseline": "alphabetic", "font": "Liberation Serif", "fontSize": 33, "color": "black"},
          "encoding": {"x": {"field": "k", "type": "quantitative", "scale": {"domain": [0, 446], "nice": false, "zero": false}},
            "y": {"field": "e", "type": "quantitative", "scale": {"domain": [-14, 8], "nice": false, "zero": false}, "axis": null},
            "text": {"field": "t"}}
        },
        {
          "data": {"values": [{"k": 467, "e": -0.61, "t": "F"}]},
          "mark": {"type": "text", "align": "left", "baseline": "alphabetic", "font": "Liberation Serif", "fontSize": 25, "color": "black"},
          "encoding": {"x": {"field": "k", "type": "quantitative", "scale": {"domain": [0, 446], "nice": false, "zero": false}},
            "y": {"field": "e", "type": "quantitative", "scale": {"domain": [-14, 8], "nice": false, "zero": false}, "axis": null},
            "text": {"field": "t"}}
        },
        {
          "data": {"values": [{"k": 379, "e": -15.79, "t": "→"}]},
          "mark": {"type": "text", "align": "center", "baseline": "middle", "font": "Liberation Serif", "fontSize": 32, "color": "black"},
          "encoding": {"x": {"field": "k", "type": "quantitative", "scale": {"domain": [0, 446], "nice": false, "zero": false}},
            "y": {"field": "e", "type": "quantitative", "scale": {"domain": [-14, 8], "nice": false, "zero": false}, "axis": null},
            "text": {"field": "t"}}
        }
      ],
      "resolve": {"axis": {"y": "independent"}}
    }
  ]
}
